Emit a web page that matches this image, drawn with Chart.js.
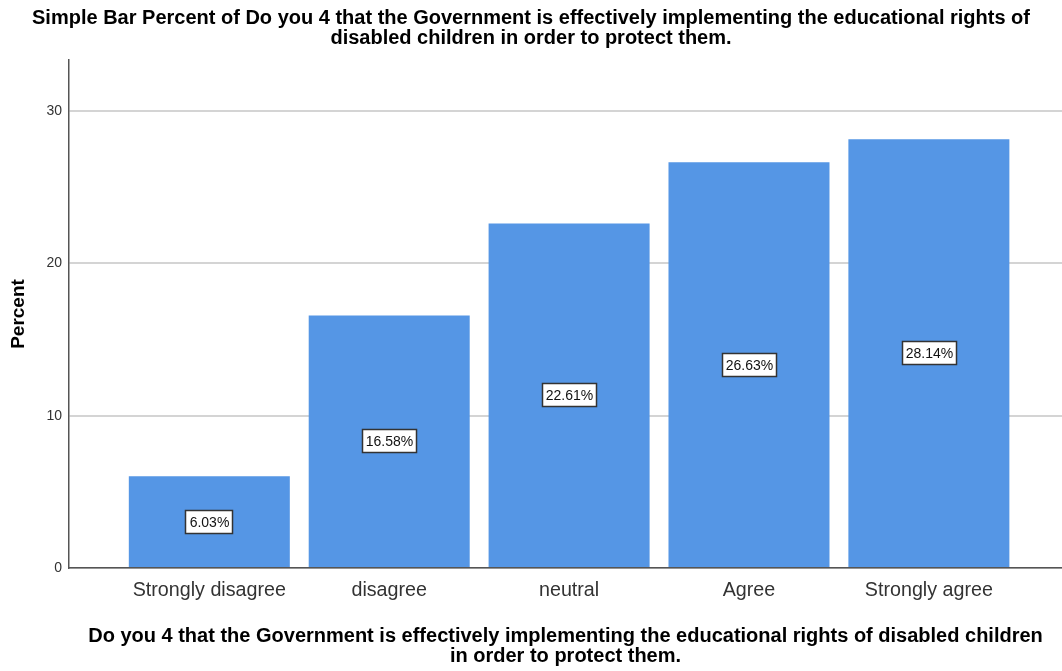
<!DOCTYPE html>
<html>
<head>
<meta charset="utf-8">
<script src="https://cdn.jsdelivr.net/npm/chart.js@4/dist/chart.umd.min.js"></script>
<style>
  html, body { margin: 0; padding: 0; background: #fff; }
  #wrap { width: 1062px; height: 671px; }
</style>
</head>
<body>
<div id="wrap"><canvas id="bar-chart" width="1062" height="671"></canvas></div>
<script>
// answer categories and their share of respondents
const categories = ['Strongly disagree', 'disagree', 'neutral', 'Agree', 'Strongly agree'];
const percentValues = [6.03, 16.58, 22.61, 26.63, 28.14];
const yTicks = [0, 10, 20, 30];

const titleLines = [
    'Simple Bar Percent of Do you 4 that the Government is effectively implementing the educational rights of',
    'disabled children in order to protect them.'
];
const xTitleLines = [
    'Do you 4 that the Government is effectively implementing the educational rights of disabled children',
    'in order to protect them.'
];

const barColor = '#5596e5';
const sansFont = '"Liberation Sans", Arial, sans-serif';

// boxed percentage label in the middle of each bar
const boxLabels = {
    id: 'boxLabels',
    afterDatasetsDraw(chart) {
        const ctx = chart.ctx;
        const meta = chart.getDatasetMeta(0);
        ctx.save();
        ctx.font = '14px ' + sansFont;
        ctx.textAlign = 'center';
        ctx.textBaseline = 'middle';
        meta.data.forEach((bar, i) => {
            const text = percentValues[i].toFixed(2) + '%';
            const w = Math.round(ctx.measureText(text).width + 7);
            const h = 23;
            const cx = Math.round(bar.x);
            const cy = Math.round((bar.y + bar.base) / 2);
            const left = cx - Math.round(w / 2);
            const top = cy - Math.round(h / 2);
            ctx.fillStyle = '#fff';
            ctx.fillRect(left, top, w, h);
            ctx.strokeStyle = '#333';
            ctx.lineWidth = 1.5;
            ctx.strokeRect(left + 0.5, top + 0.5, w, h);
            ctx.fillStyle = '#111';
            ctx.fillText(text, cx + 0.5, cy + 1.5);
        });
        ctx.restore();
    }
};

new Chart(document.getElementById('bar-chart').getContext('2d'), {
    type: 'bar',
    data: {
        datasets: [{
            label: 'Percent',
            data: percentValues.map((v, i) => ({ x: i, y: v })),
            backgroundColor: barColor,
            borderWidth: 0,
            categoryPercentage: 1,
            barPercentage: 0.895
        }]
    },
    options: {
        responsive: false,
        animation: false,
        devicePixelRatio: 1,
        layout: { padding: 0 },
        plugins: {
            legend: { display: false },
            tooltip: { enabled: false },
            title: {
                display: true,
                text: titleLines,
                color: '#000',
                font: { family: sansFont, size: 20, weight: 'bold', lineHeight: 1.0 },
                padding: { top: 8, bottom: 12 }
            }
        },
        scales: {
            x: {
                type: 'linear',
                offset: false,
                min: -0.78,
                max: 4.74,
                grid: { display: false, drawTicks: false },
                border: { display: true, color: '#555', width: 1.5 },
                ticks: {
                    stepSize: 1,
                    includeBounds: false,
                    padding: 11,
                    color: '#333',
                    font: { family: sansFont, size: 19.7 },
                    callback: (v) => categories[v] !== undefined ? categories[v] : ''
                },
                title: {
                    display: true,
                    text: xTitleLines,
                    color: '#000',
                    font: { family: sansFont, size: 20, weight: 'bold', lineHeight: 1.0 },
                    padding: { top: 0, bottom: 5 }
                },
                afterFit: (scale) => { scale.height = 103; }
            },
            y: {
                min: 0,
                max: 33.35,
                grid: { color: '#d4d4d4', lineWidth: 2, drawTicks: false },
                border: { display: true, color: '#555', width: 1.5 },
                ticks: {
                    stepSize: 10,
                    includeBounds: false,
                    padding: 7,
                    color: '#333',
                    font: { family: sansFont, size: 14 },
                    callback: (v) => yTicks.includes(v) ? String(v) : ''
                },
                title: {
                    display: true,
                    text: 'Percent',
                    color: '#000',
                    font: { family: sansFont, size: 19, weight: 'bold', lineHeight: 1.2 },
                    padding: { top: 7, bottom: 0 }
                },
                afterFit: (scale) => { scale.width = 69; }
            }
        }
    },
    plugins: [boxLabels]
});
</script>
</body>
</html>
